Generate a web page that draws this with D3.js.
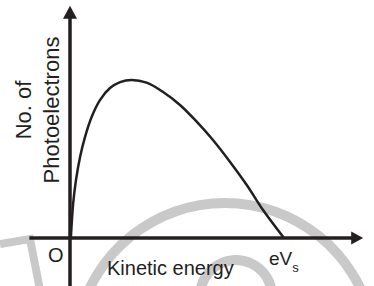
<!DOCTYPE html>
<html>
<head>
<title>Photoelectrons vs kinetic energy</title>
<style>
  body { margin: 0; overflow: hidden; background: #fff; }
  svg { display: block; }
  text { font-family: "Liberation Sans", Arial, sans-serif; fill: #231f20; }
</style>
</head>
<body>
<svg id="chart"></svg>
<script src="https://cdnjs.cloudflare.com/ajax/libs/d3/7.8.5/d3.min.js"></script>
<script>
  const width = 374, height = 286;

  // kinetic energy, as a fraction of eVs
  const energy = [0.004, 0.015, 0.028, 0.047, 0.07, 0.101, 0.14, 0.187, 0.234, 0.288, 0.358, 0.435, 0.514, 0.592, 0.668, 0.748, 0.826, 0.902, 1];
  // number of photoelectrons, as a fraction of the peak
  const count = [0, 0.222, 0.367, 0.513, 0.639, 0.766, 0.873, 0.949, 0.987, 1, 0.983, 0.924, 0.842, 0.736, 0.62, 0.481, 0.335, 0.177, 0];

  const xAxisExtent = [-0.19, 1.37];
  const yAxisExtent = [-0.3, 1.47];

  const svg = d3.select("#chart").attr("width", width).attr("height", height);

  const x = d3.scaleLinear().domain([0, 1]).range([70, 284]);
  const y = d3.scaleLinear().domain([0, 1]).range([238, 80]);

  // faint watermark behind the chart
  const wm = svg.append("g").attr("fill", "#c9c9c9");
  wm.append("path")
    .attr("transform", "translate(225,353)")
    .attr("d", d3.arc()({ innerRadius: 145, outerRadius: 155, startAngle: -1.35, endAngle: 1.35 }));
  wm.append("path")
    .attr("transform", "translate(236,296)")
    .attr("d", d3.arc()({ innerRadius: 31, outerRadius: 41, startAngle: -1.7, endAngle: 1.7 }));
  wm.append("path")
    .attr("fill", "none")
    .attr("stroke", "#c9c9c9")
    .attr("stroke-width", 8)
    .attr("d", d3.line()([[0, 244], [30, 239], [40, 290]]));

  // axes
  const axisColor = "#231f20";
  svg.append("line")
    .attr("x1", x(xAxisExtent[0])).attr("x2", x(xAxisExtent[1]) - 6)
    .attr("y1", y(0)).attr("y2", y(0))
    .attr("stroke", axisColor).attr("stroke-width", 3.5);
  svg.append("line")
    .attr("x1", x(0)).attr("x2", x(0))
    .attr("y1", y(yAxisExtent[0]) + 20).attr("y2", y(yAxisExtent[1]) + 6)
    .attr("stroke", axisColor).attr("stroke-width", 3.5);

  // arrow heads
  const xt = x(xAxisExtent[1]), yt = y(yAxisExtent[1]);
  svg.append("path")
    .attr("d", `M${xt},${y(0)}L${xt - 12},${y(0) - 6.5}L${xt - 12},${y(0) + 6.5}Z`)
    .attr("fill", axisColor);
  svg.append("path")
    .attr("d", `M${x(0)},${yt}L${x(0) - 7},${yt + 13}L${x(0) + 7},${yt + 13}Z`)
    .attr("fill", axisColor);

  // distribution curve
  const line = d3.line()
    .x((d, i) => x(energy[i]))
    .y(d => y(d))
    .curve(d3.curveCatmullRom.alpha(0.5));
  svg.append("path")
    .datum(count)
    .attr("d", line)
    .attr("fill", "none")
    .attr("stroke", axisColor)
    .attr("stroke-width", 2.5);

  // labels
  svg.append("text").attr("x", 48).attr("y", 262).attr("font-size", 20).text("O");
  svg.append("text").attr("x", 107).attr("y", 275).attr("font-size", 20).text("Kinetic energy");

  const evs = svg.append("text").attr("x", 269).attr("y", 265).attr("font-size", 19);
  evs.append("tspan").text("eV");
  evs.append("tspan").attr("font-size", 13).attr("dy", 7).text("s");

  const ylab = svg.append("text")
    .attr("transform", "translate(31,110) rotate(-90)")
    .attr("text-anchor", "middle")
    .attr("font-size", 22);
  ylab.append("tspan").attr("x", 0).attr("y", 0).text("No. of");
  ylab.append("tspan").attr("x", 0).attr("y", 28).text("Photoelectrons");
</script>
</body>
</html>
